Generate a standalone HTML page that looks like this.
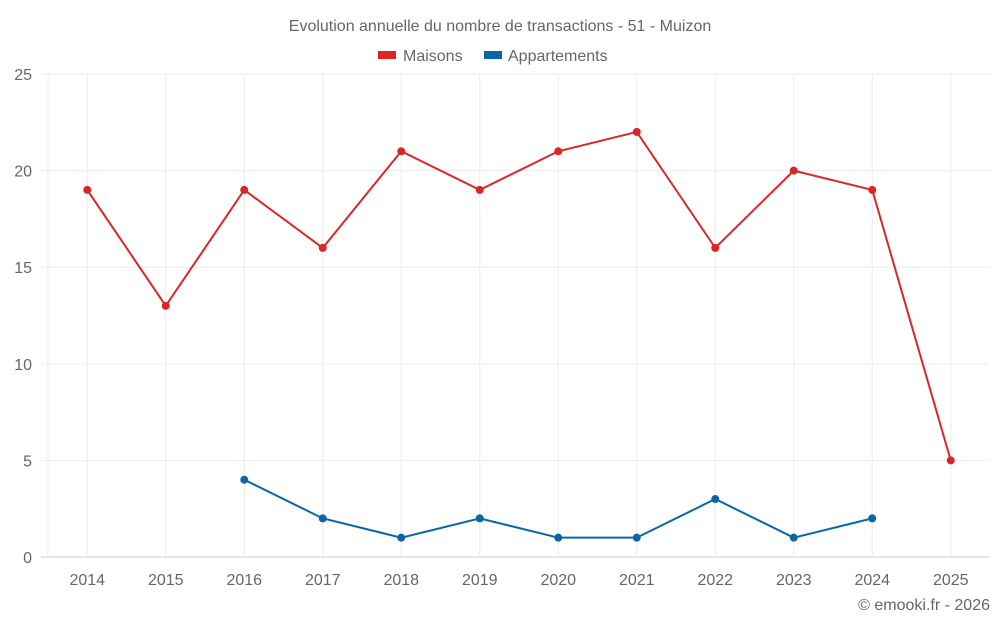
<!DOCTYPE html>
<html><head><meta charset="utf-8">
<style>
body{margin:0;background:#fff;font-family:"Liberation Sans",sans-serif;}
svg text{font-family:"Liberation Sans",sans-serif;fill:#666;}
</style></head>
<body>
<svg id="chart" width="1000" height="625">
<text x="500" y="31" text-anchor="middle" font-size="16">Evolution annuelle du nombre de transactions - 51 - Muizon</text>
<g>
<g><rect x="378" y="51" width="18" height="8" fill="#dc2626"/><text x="403" y="61" font-size="16">Maisons</text></g>
<g><rect x="484" y="51" width="18" height="8" fill="#0a67a3"/><text x="508" y="61" font-size="16">Appartements</text></g>
</g>
<g id="grid"></g><g id="axes"></g><g id="series"></g>
<text x="990" y="610" text-anchor="end" font-size="16">© emooki.fr - 2026</text>
</svg>
<script>
const categories=["2014","2015","2016","2017","2018","2019","2020","2021","2022","2023","2024","2025"];
const maisons=[19,13,19,16,21,19,21,22,16,20,19,5];
const appartements=[null,null,4,2,1,2,1,1,3,1,2,null];
const yTicks=[0,5,10,15,20,25];
const L=48,R=990,T=74,B=557,yMax=25;
const band=(R-L)/categories.length;
const x=i=>L+band*(i+0.5);
const y=v=>B-(v/yMax)*(B-T);
const NS="http://www.w3.org/2000/svg";
function mk(tag,attrs,parent){const e=document.createElementNS(NS,tag);for(const k in attrs)e.setAttribute(k,attrs[k]);parent.appendChild(e);return e;}
const grid=document.getElementById('grid'),axes=document.getElementById('axes'),series=document.getElementById('series');
yTicks.forEach(t=>{
 const l=mk('line',{x1:L-7,x2:R,y1:y(t),y2:y(t),stroke:t===0?'#ccc':'#ececec'},grid);
 
 
 const tx=mk('text',{x:32,y:y(t)+6,'text-anchor':'end','font-size':16},axes);
 tx.textContent=t;
 
 
});
const ledge=mk('line',{x1:L,x2:L,y1:T,y2:B,stroke:'#ececec'},grid);


categories.forEach((c,i)=>{
 const l=mk('line',{x1:x(i),x2:x(i),y1:T,y2:B,stroke:'#ececec'},grid);
 
 
 const tx=mk('text',{x:x(i),y:585,'text-anchor':'middle','font-size':16},axes);
 tx.textContent=c;
 
 
});
function draw(data,color,name){
 let d='';let started=false;
 data.forEach((v,i)=>{if(v==null){started=false;return;}d+=(started?'L':'M')+x(i)+' '+y(v)+' ';started=true;});
 const p=mk('path',{d:d,fill:'none',stroke:color,'stroke-width':2},series);
 
 
 data.forEach((v,i)=>{if(v==null)return;
  const c=mk('circle',{cx:x(i),cy:y(v),r:4,fill:color},series);
  
  
 });
}
draw(maisons,'#dc2626','maisons');
draw(appartements,'#0a67a3','appartements');
</script>
</body></html>
